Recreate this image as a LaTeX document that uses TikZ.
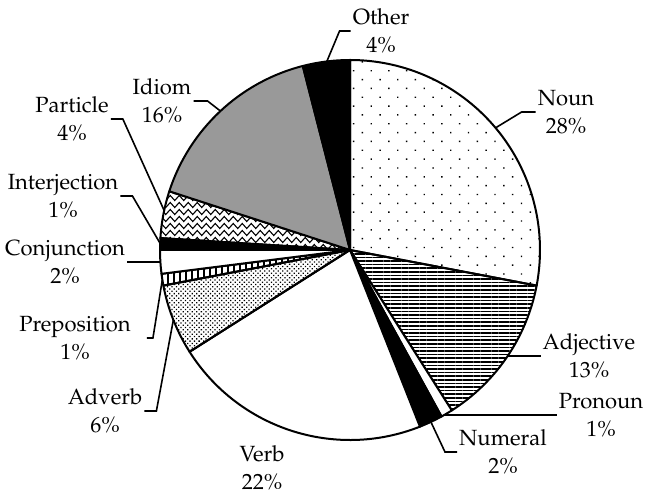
\documentclass[tikz,border=0pt]{standalone}
\usepackage[T1]{fontenc}
\usepackage{mathpazo}
\usetikzlibrary{patterns.meta,calc,decorations.pathmorphing}

\begin{document}
\begin{tikzpicture}[
    x=1pt, y=1pt,
    slice/.style={draw=black, line width=2pt, line join=round},
    leader/.style={draw=black, line width=1.6pt},
    zig/.style={line width=1.1pt, decorate, decoration={zigzag, segment length=9pt, amplitude=2.5pt}},
    lbl/.style={align=center, inner sep=2pt, font=\fontsize{22}{28.5}\selectfont}]
    \fill[white] (0,0) rectangle (647,495);
    \useasboundingbox (0,0) rectangle (647,495);
    % centre of the pie
    \coordinate (C) at (350,245);

    % SLICES (clockwise from the top)
    % Noun 28%
    \draw[slice, pattern={Dots[distance=12.5pt, angle=45, radius=1pt]}] (C) -- ++(90:190pt) arc[start angle=90, end angle=-10.8, radius=190pt] -- cycle;
    % Adjective 13%
    \draw[slice, pattern={Lines[distance=3.6pt, angle=0, line width=1.6pt]}] (C) -- ++(-10.8:190pt) arc[start angle=-10.8, end angle=-57.6, radius=190pt] -- cycle;
    % Pronoun 1%
    \draw[slice, fill=white] (C) -- ++(-57.6:190pt) arc[start angle=-57.6, end angle=-61.2, radius=190pt] -- cycle;
    % Numeral 2%
    \draw[slice, fill=black] (C) -- ++(-61.2:190pt) arc[start angle=-61.2, end angle=-68.4, radius=190pt] -- cycle;
    % Verb 22%
    \draw[slice, fill=white] (C) -- ++(-68.4:190pt) arc[start angle=-68.4, end angle=-147.6, radius=190pt] -- cycle;
    % Adverb 6%
    \draw[slice, pattern={Dots[distance=3.2pt, angle=45, radius=0.9pt]}] (C) -- ++(-147.6:190pt) arc[start angle=-147.6, end angle=-169.2, radius=190pt] -- cycle;
    % Preposition 1%
    \draw[slice, pattern={Lines[distance=6pt, angle=90, line width=1.6pt]}] (C) -- ++(-169.2:190pt) arc[start angle=-169.2, end angle=-172.8, radius=190pt] -- cycle;
    % Conjunction 2%
    \draw[slice, fill=white] (C) -- ++(-172.8:190pt) arc[start angle=-172.8, end angle=-180, radius=190pt] -- cycle;
    % Interjection 1%
    \draw[slice, fill=black] (C) -- ++(180:190pt) arc[start angle=180, end angle=176.4, radius=190pt] -- cycle;
    % Particle 4%
    \begin{scope}
      \clip (C) -- ++(176.4:190pt) arc[start angle=176.4, end angle=162, radius=190pt] -- cycle;
      \foreach \yy in {3,10,...,66}
        \draw[zig] (150,245+\yy) -- (360,245+\yy);
    \end{scope}
    \draw[slice] (C) -- ++(176.4:190pt) arc[start angle=176.4, end angle=162, radius=190pt] -- cycle;
    % Idiom 16%
    \draw[slice, fill=black!40] (C) -- ++(162:190pt) arc[start angle=162, end angle=104.4, radius=190pt] -- cycle;
    % Other 4%
    \draw[slice, fill=black] (C) -- ++(104.4:190pt) arc[start angle=104.4, end angle=90, radius=190pt] -- cycle;

    % points on the rim
    \coordinate (pOther) at ($(C)+(97:190pt)$);
    \coordinate (pNoun) at ($(C)+(40:190pt)$);
    \coordinate (pAdj) at ($(C)+(-33.9:190pt)$);
    \coordinate (pPron) at ($(C)+(-60.3:190pt)$);
    \coordinate (pNum) at ($(C)+(-64.8:190pt)$);
    \coordinate (pAdv) at ($(C)+(-158.4:190pt)$);
    \coordinate (pPrep) at ($(C)+(-171:190pt)$);
    \coordinate (pConj) at ($(C)+(-176.4:190pt)$);
    \coordinate (pInt) at ($(C)+(178:190pt)$);
    \coordinate (pPart) at ($(C)+(168:190pt)$);
    \coordinate (pIdiom) at ($(C)+(133:190pt)$);

    % LABELS
    \node[lbl] (Other) at (381,464) {Other\\4\%};
    \node[lbl] (Noun) at (566,383) {Noun\\28\%};
    \node[lbl] (Adjective) at (589,139) {Adjective\\13\%};
    \node[lbl] (Pronoun) at (601,80) {Pronoun\\1\%};
    \node[lbl] (Numeral) at (503,43) {Numeral\\2\%};
    \node[lbl] (Verb) at (262,27) {Verb\\22\%};
    \node[lbl] (Adverb) at (105,84) {Adverb\\6\%};
    \node[lbl] (Preposition) at (75,157) {Preposition\\1\%};
    \node[lbl] (Conjunction) at (65,233) {Conjunction\\2\%};
    \node[lbl] (Interjection) at (63,299) {Interjection\\1\%};
    \node[lbl] (Particle) at (72,376) {Particle\\4\%};
    \node[lbl] (Idiom) at (162,394) {Idiom\\16\%};

    % LEADERS
    \draw[leader] (Other.west) -- ++(-11pt,0) -- (pOther);
    \draw[leader] (Noun.west) -- ++(-14pt,0) -- (pNoun);
    \draw[leader] (Adjective.west) -- (Adjective.west -| pAdj);
    \draw[leader] (Pronoun.west) -- (Pronoun.west -| pPron);
    \draw[leader] (Numeral.west) -- ++(-12pt,0) -- (pNum);
    \draw[leader] (Adverb.east) -- ++(12pt,0) -- (pAdv);
    \draw[leader] ([xshift=14pt]Preposition.east) -- ++(6pt,0) -- (pPrep);
    \draw[leader] (Conjunction.east) -- (Conjunction.east -| pConj);
    \draw[leader] (Interjection.east) -- ++(12pt,0) -- (pInt);
    \draw[leader] (Particle.east) -- ++(12pt,0) -- (pPart);
    \draw[leader] (Idiom.east) -- ++(14pt,0) -- (pIdiom);
\end{tikzpicture}
\end{document}
